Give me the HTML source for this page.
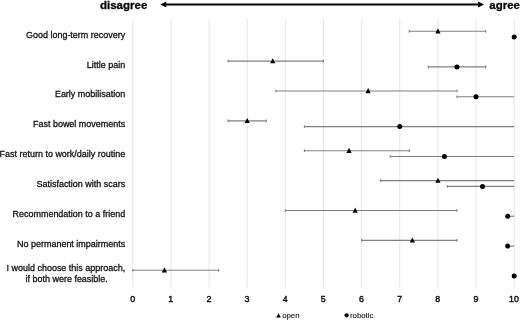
<!DOCTYPE html>
<html><head><meta charset="utf-8"><title>chart</title>
<style>
html,body{margin:0;padding:0;background:#fff;}
body{width:520px;height:320px;overflow:hidden;}
svg{display:block;}
text{font-family:"Liberation Sans",sans-serif;fill:#111;stroke:#111;stroke-width:0.3px;}
.lbl{font-size:9.5px;}
.ax{font-size:9.8px;stroke-width:0.45px;}
.lg{font-size:7.8px;fill:#222;stroke:#222;stroke-width:0.15px;}
.hd{font-size:11.5px;font-weight:bold;fill:#000;}
</style></head><body>
<svg width="520" height="320" viewBox="0 0 520 320">
<rect width="520" height="320" fill="#fff"/>

<line x1="132.80" y1="19" x2="132.80" y2="287.5" stroke="#e6e6e6" stroke-width="1"/>
<line x1="170.94" y1="19" x2="170.94" y2="287.5" stroke="#e6e6e6" stroke-width="1"/>
<line x1="209.08" y1="19" x2="209.08" y2="287.5" stroke="#e6e6e6" stroke-width="1"/>
<line x1="247.22" y1="19" x2="247.22" y2="287.5" stroke="#e6e6e6" stroke-width="1"/>
<line x1="285.36" y1="19" x2="285.36" y2="287.5" stroke="#e6e6e6" stroke-width="1"/>
<line x1="323.50" y1="19" x2="323.50" y2="287.5" stroke="#e6e6e6" stroke-width="1"/>
<line x1="361.64" y1="19" x2="361.64" y2="287.5" stroke="#e6e6e6" stroke-width="1"/>
<line x1="399.78" y1="19" x2="399.78" y2="287.5" stroke="#e6e6e6" stroke-width="1"/>
<line x1="437.92" y1="19" x2="437.92" y2="287.5" stroke="#e6e6e6" stroke-width="1"/>
<line x1="476.06" y1="19" x2="476.06" y2="287.5" stroke="#e6e6e6" stroke-width="1"/>
<line x1="514.20" y1="19" x2="514.20" y2="287.5" stroke="#e6e6e6" stroke-width="1"/>
<text class="hd" x="100" y="8.9">disagree</text>
<text class="hd" x="489.3" y="8.6">agree</text>
<line x1="165" y1="4.5" x2="479" y2="4.5" stroke="#000" stroke-width="2"/>
<polygon points="160.3,4.5 166.3,1.6 166.3,7.4" fill="#000"/>
<polygon points="484,4.5 478,1.6 478,7.4" fill="#000"/>
<text class="lbl" transform="translate(125.2,37.65) scale(0.945,1)" text-anchor="end">Good long-term recovery</text>
<line x1="409.31" y1="31.25" x2="485.60" y2="31.25" stroke="#808080" stroke-width="1.15"/>
<line x1="409.31" y1="29.95" x2="409.31" y2="32.55" stroke="#808080" stroke-width="1.15"/>
<line x1="485.60" y1="29.95" x2="485.60" y2="32.55" stroke="#808080" stroke-width="1.15"/>
<polygon points="437.92,28.35 435.32,33.45 440.52,33.45" fill="#000"/>
<circle cx="514.20" cy="37.00" r="2.5" fill="#000"/>
<text class="lbl" transform="translate(125.2,67.53) scale(0.945,1)" text-anchor="end">Little pain</text>
<line x1="228.15" y1="61.12" x2="323.50" y2="61.12" stroke="#808080" stroke-width="1.15"/>
<line x1="228.15" y1="59.83" x2="228.15" y2="62.42" stroke="#808080" stroke-width="1.15"/>
<line x1="323.50" y1="59.83" x2="323.50" y2="62.42" stroke="#808080" stroke-width="1.15"/>
<polygon points="272.77,58.23 270.17,63.33 275.37,63.33" fill="#000"/>
<line x1="428.38" y1="66.88" x2="485.60" y2="66.88" stroke="#808080" stroke-width="1.15"/>
<line x1="428.38" y1="65.58" x2="428.38" y2="68.17" stroke="#808080" stroke-width="1.15"/>
<line x1="485.60" y1="65.58" x2="485.60" y2="68.17" stroke="#808080" stroke-width="1.15"/>
<circle cx="456.99" cy="66.88" r="2.5" fill="#000"/>
<text class="lbl" transform="translate(125.2,97.40) scale(0.945,1)" text-anchor="end">Early mobilisation</text>
<line x1="275.83" y1="91.00" x2="456.99" y2="91.00" stroke="#808080" stroke-width="1.15"/>
<line x1="275.83" y1="89.70" x2="275.83" y2="92.30" stroke="#808080" stroke-width="1.15"/>
<line x1="456.99" y1="89.70" x2="456.99" y2="92.30" stroke="#808080" stroke-width="1.15"/>
<polygon points="368.12,88.10 365.52,93.20 370.72,93.20" fill="#000"/>
<line x1="456.99" y1="96.75" x2="514.20" y2="96.75" stroke="#808080" stroke-width="1.15"/>
<line x1="456.99" y1="95.45" x2="456.99" y2="98.05" stroke="#808080" stroke-width="1.15"/>
<circle cx="476.06" cy="96.75" r="2.5" fill="#000"/>
<text class="lbl" transform="translate(125.2,127.28) scale(0.945,1)" text-anchor="end">Fast bowel movements</text>
<line x1="228.15" y1="120.88" x2="266.29" y2="120.88" stroke="#808080" stroke-width="1.15"/>
<line x1="228.15" y1="119.58" x2="228.15" y2="122.17" stroke="#808080" stroke-width="1.15"/>
<line x1="266.29" y1="119.58" x2="266.29" y2="122.17" stroke="#808080" stroke-width="1.15"/>
<polygon points="247.22,117.97 244.62,123.08 249.82,123.08" fill="#000"/>
<line x1="304.43" y1="126.62" x2="514.20" y2="126.62" stroke="#808080" stroke-width="1.15"/>
<line x1="304.43" y1="125.33" x2="304.43" y2="127.92" stroke="#808080" stroke-width="1.15"/>
<circle cx="399.78" cy="126.62" r="2.5" fill="#000"/>
<text class="lbl" transform="translate(125.2,157.15) scale(0.945,1)" text-anchor="end">Fast return to work/daily routine</text>
<line x1="304.43" y1="150.75" x2="409.31" y2="150.75" stroke="#808080" stroke-width="1.15"/>
<line x1="304.43" y1="149.45" x2="304.43" y2="152.05" stroke="#808080" stroke-width="1.15"/>
<line x1="409.31" y1="149.45" x2="409.31" y2="152.05" stroke="#808080" stroke-width="1.15"/>
<polygon points="349.05,147.85 346.45,152.95 351.65,152.95" fill="#000"/>
<line x1="390.25" y1="156.50" x2="514.20" y2="156.50" stroke="#808080" stroke-width="1.15"/>
<line x1="390.25" y1="155.20" x2="390.25" y2="157.80" stroke="#808080" stroke-width="1.15"/>
<circle cx="444.40" cy="156.50" r="2.5" fill="#000"/>
<text class="lbl" transform="translate(125.2,187.03) scale(0.945,1)" text-anchor="end">Satisfaction with scars</text>
<line x1="380.71" y1="180.62" x2="514.20" y2="180.62" stroke="#808080" stroke-width="1.15"/>
<line x1="380.71" y1="179.32" x2="380.71" y2="181.93" stroke="#808080" stroke-width="1.15"/>
<polygon points="437.92,177.72 435.32,182.82 440.52,182.82" fill="#000"/>
<line x1="447.46" y1="186.38" x2="514.20" y2="186.38" stroke="#808080" stroke-width="1.15"/>
<line x1="447.46" y1="185.07" x2="447.46" y2="187.68" stroke="#808080" stroke-width="1.15"/>
<circle cx="482.54" cy="186.38" r="2.5" fill="#000"/>
<text class="lbl" transform="translate(125.2,216.90) scale(0.945,1)" text-anchor="end">Recommendation to a friend</text>
<line x1="285.36" y1="210.50" x2="456.99" y2="210.50" stroke="#808080" stroke-width="1.15"/>
<line x1="285.36" y1="209.20" x2="285.36" y2="211.80" stroke="#808080" stroke-width="1.15"/>
<line x1="456.99" y1="209.20" x2="456.99" y2="211.80" stroke="#808080" stroke-width="1.15"/>
<polygon points="355.16,207.60 352.56,212.70 357.76,212.70" fill="#000"/>
<line x1="507.72" y1="216.25" x2="514.20" y2="216.25" stroke="#808080" stroke-width="1.15"/>
<circle cx="507.72" cy="216.25" r="2.5" fill="#000"/>
<text class="lbl" transform="translate(125.2,246.78) scale(0.945,1)" text-anchor="end">No permanent impairments</text>
<line x1="361.64" y1="240.38" x2="456.99" y2="240.38" stroke="#808080" stroke-width="1.15"/>
<line x1="361.64" y1="239.07" x2="361.64" y2="241.68" stroke="#808080" stroke-width="1.15"/>
<line x1="456.99" y1="239.07" x2="456.99" y2="241.68" stroke="#808080" stroke-width="1.15"/>
<polygon points="412.37,237.47 409.77,242.57 414.97,242.57" fill="#000"/>
<line x1="507.72" y1="246.12" x2="514.20" y2="246.12" stroke="#808080" stroke-width="1.15"/>
<circle cx="507.72" cy="246.12" r="2.5" fill="#000"/>
<text class="lbl" transform="translate(125.2,271.15) scale(0.945,1)" text-anchor="end">I would choose this approach,</text>
<text class="lbl" transform="translate(107.8,281.65) scale(0.945,1)" text-anchor="end">if both were feasible.</text>
<line x1="132.80" y1="270.25" x2="218.62" y2="270.25" stroke="#808080" stroke-width="1.15"/>
<line x1="132.80" y1="268.95" x2="132.80" y2="271.55" stroke="#808080" stroke-width="1.15"/>
<line x1="218.62" y1="268.95" x2="218.62" y2="271.55" stroke="#808080" stroke-width="1.15"/>
<polygon points="164.46,267.35 161.86,272.45 167.06,272.45" fill="#000"/>
<circle cx="514.20" cy="276.00" r="2.5" fill="#000"/>
<text class="ax" transform="translate(132.60,302.2) scale(0.9,1)" text-anchor="middle">0</text>
<text class="ax" transform="translate(170.74,302.2) scale(0.9,1)" text-anchor="middle">1</text>
<text class="ax" transform="translate(208.88,302.2) scale(0.9,1)" text-anchor="middle">2</text>
<text class="ax" transform="translate(247.02,302.2) scale(0.9,1)" text-anchor="middle">3</text>
<text class="ax" transform="translate(285.16,302.2) scale(0.9,1)" text-anchor="middle">4</text>
<text class="ax" transform="translate(323.30,302.2) scale(0.9,1)" text-anchor="middle">5</text>
<text class="ax" transform="translate(361.44,302.2) scale(0.9,1)" text-anchor="middle">6</text>
<text class="ax" transform="translate(399.58,302.2) scale(0.9,1)" text-anchor="middle">7</text>
<text class="ax" transform="translate(437.72,302.2) scale(0.9,1)" text-anchor="middle">8</text>
<text class="ax" transform="translate(475.86,302.2) scale(0.9,1)" text-anchor="middle">9</text>
<text class="ax" transform="translate(514.00,302.2) scale(0.9,1)" text-anchor="middle">10</text>
<polygon points="278.5,313.3 276.2,317.6 280.8,317.6" fill="#000"/>
<text class="lg" x="282.2" y="317.5">open</text>
<circle cx="346.6" cy="315.3" r="2.15" fill="#000"/>
<text class="lg" x="350" y="317.5">robotic</text>
</svg></body></html>
